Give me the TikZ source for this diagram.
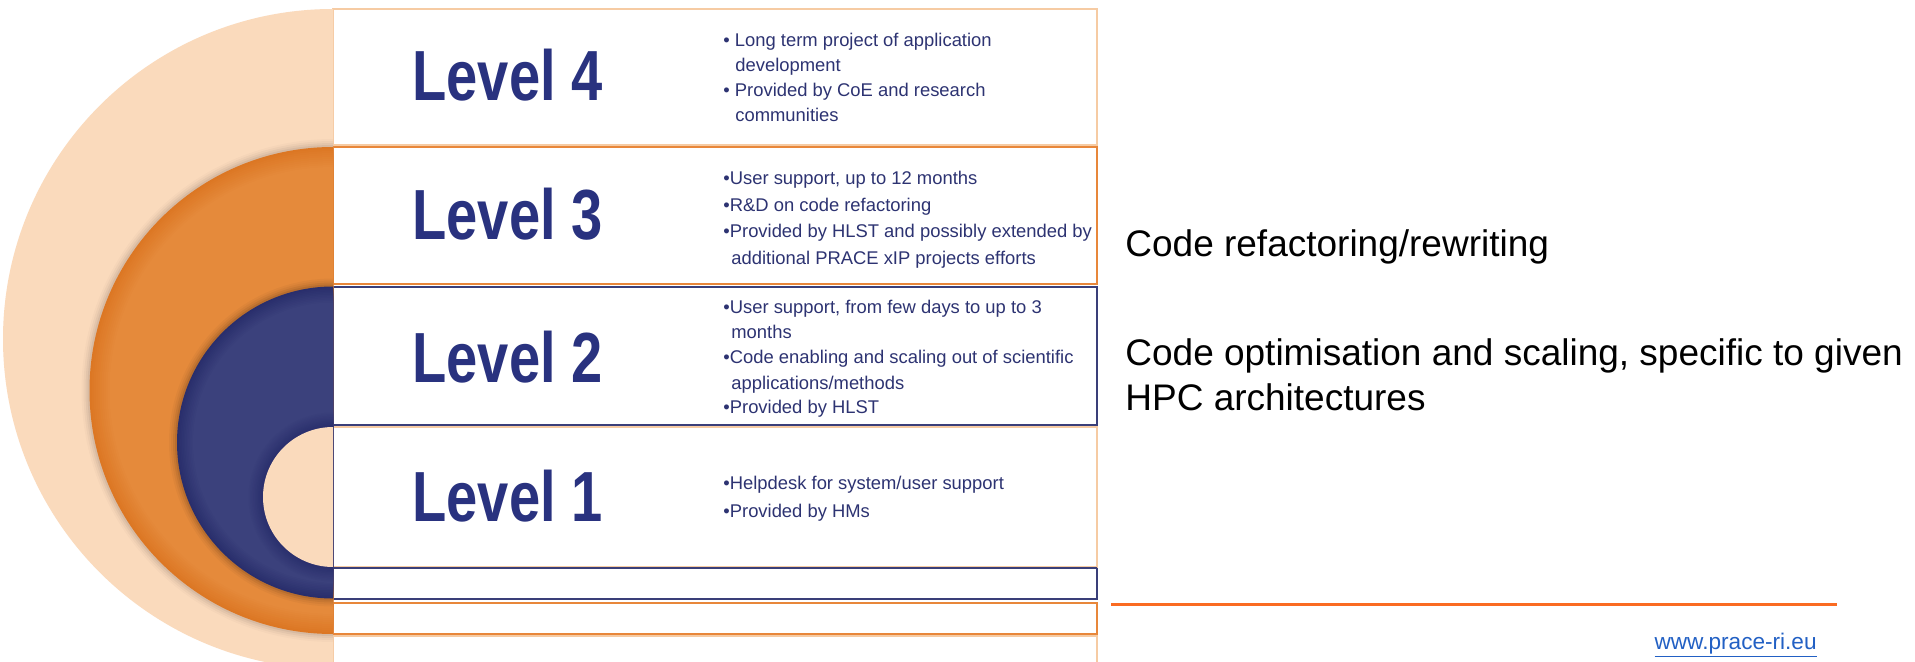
\documentclass[tikz,border=0pt]{standalone}
\usepackage{fontspec}
\setmainfont{Liberation Sans}
\newfontfamily\levelfont[FakeStretch=0.79]{Liberation Sans}

\definecolor{peach}{HTML}{FADABC}
\definecolor{peachline}{HTML}{F6CBA3}
\definecolor{orangebase}{HTML}{E58A3B}
\definecolor{orangerim}{HTML}{DC7724}
\definecolor{orangeline}{HTML}{E8873A}
\definecolor{navybase}{HTML}{3B417C}
\definecolor{navyrim}{HTML}{292E6C}
\definecolor{navyline}{HTML}{3A3F79}
\definecolor{lvltext}{HTML}{29327F}
\definecolor{itemtext}{HTML}{2D3372}
\definecolor{rulec}{HTML}{FA6B22}
\definecolor{linkc}{HTML}{2260C4}

\begin{document}
\begin{tikzpicture}[x=0.5pt,y=-0.5pt,
  band/.style={fill=white,line width=1pt},
  lvl/.style={anchor=base west,inner sep=0pt,text=lvltext,
    font=\levelfont\bfseries\fontsize{35.5}{40}\selectfont},
  itm/.style={anchor=base west,inner sep=0pt,text=itemtext,
    font=\fontsize{9.2}{11}\selectfont},
  note/.style={anchor=base west,inner sep=0pt,text=black,
    font=\fontsize{18.5}{22}\selectfont}]

\fill[white] (0,0) rectangle (1915,662);
\useasboundingbox (0,0) rectangle (1915,662);

% text bands to the right of the half disks
\draw[band,draw=peachline]  (333,636) rectangle (1097,690);
\draw[band,draw=peachline]  (333,9)   rectangle (1097,145.5);
\draw[band,draw=orangeline] (333,147) rectangle (1097,284.5);
\draw[band,draw=orangeline] (333,602.5) rectangle (1097,633.5);
\draw[band,draw=navyline]   (333,287) rectangle (1097,425);
\draw[band,draw=navyline]   (333,568) rectangle (1097,599);
\draw[band,draw=peachline]  (333,427) rectangle (1097,566.5);
\draw[navyline,line width=1pt] (333,425) -- (1097,425);
\draw[navyline,line width=1pt] (333,568) -- (1097,568);

% nested half disks
\begin{scope}
  \clip (0,0) rectangle (333,662);
  \fill[peach] (333,339) circle[radius=330];
  % orange ring with soft shadow and darker rim
  \foreach \d/\o in {8/0.02,6/0.03,4/0.04,2/0.05}
    \fill[black,opacity=\o] (333,390.5) circle[radius=243.5+\d];
  \foreach \i [evaluate=\i as \p using \i*10] in {0,...,10}
    \fill[orangebase!\p!orangerim] (333,390.5) circle[radius=243.5-\i*2];
  % navy ring
  \foreach \d/\o in {8/0.03,6/0.04,4/0.06,2/0.08}
    \fill[black,opacity=\o] (333,442.5) circle[radius=156+\d];
  \foreach \i [evaluate=\i as \p using \i*10] in {0,...,10}
    \fill[navybase!\p!navyrim] (333,442.5) circle[radius=156-\i*1.6];
  \foreach \i [evaluate=\i as \p using 100-\i*10] in {0,...,10}
    \fill[navybase!\p!navyrim] (333,497) circle[radius=70+(10-\i)*1.6];
  % innermost peach disk
  \fill[peach] (333,497) circle[radius=70];
\end{scope}

% level titles
\node[lvl] (lv4) at (412,101) {Level 4};
\node[lvl] (lv3) at (412,240) {Level 3};
\node[lvl] (lv2) at (412,382) {Level 2};
\node[lvl] (lv1) at (412,521) {Level 1};

% level 4 items
\node[itm] (l4a) at (723,46.5) {\textbullet\ Long term project of application};
\node[itm] (l4b) at (735,71.5) {development};
\node[itm] (l4c) at (723,97)   {\textbullet\ Provided by CoE and research};
\node[itm] (l4d) at (735,122)  {communities};

% level 3 items
\node[itm] (l3a) at (723,185)   {\textbullet User support, up to 12 months};
\node[itm] (l3b) at (723,211.5) {\textbullet R\&D on code refactoring};
\node[itm] (l3c) at (723,238)   {\textbullet Provided by HLST and possibly extended by};
\node[itm] (l3d) at (731,264.5) {additional PRACE xIP projects efforts};

% level 2 items
\node[itm] (l2a) at (723,314) {\textbullet User support, from few days to up to 3};
\node[itm] (l2b) at (731,339) {months};
\node[itm] (l2c) at (723,364) {\textbullet Code enabling and scaling out of scientific};
\node[itm] (l2d) at (731,389) {applications/methods};
\node[itm] (l2e) at (723,414) {\textbullet Provided by HLST};

% level 1 items
\node[itm] (l1a) at (723,489) {\textbullet Helpdesk for system/user support};
\node[itm] (l1b) at (723,517) {\textbullet Provided by HMs};

% notes on the right
\node[note] (n1) at (1125,257) {Code refactoring/rewriting};
\node[note] (n2) at (1125,365) {Code optimisation and scaling, specific to given};
\node[note] (n3) at (1125,410) {HPC architectures};

% footer rule and link
\coordinate (ruleL) at (1111,604);
\coordinate (ruleR) at (1837,604);
\draw[rulec,line width=1.5pt] (ruleL) -- (ruleR);
\node[anchor=base east,inner sep=0pt,text=linkc,font=\fontsize{11.3}{13}\selectfont]
  (url) at (1817,649) {\underline{www.prace-ri.eu}};
\end{tikzpicture}
\end{document}
